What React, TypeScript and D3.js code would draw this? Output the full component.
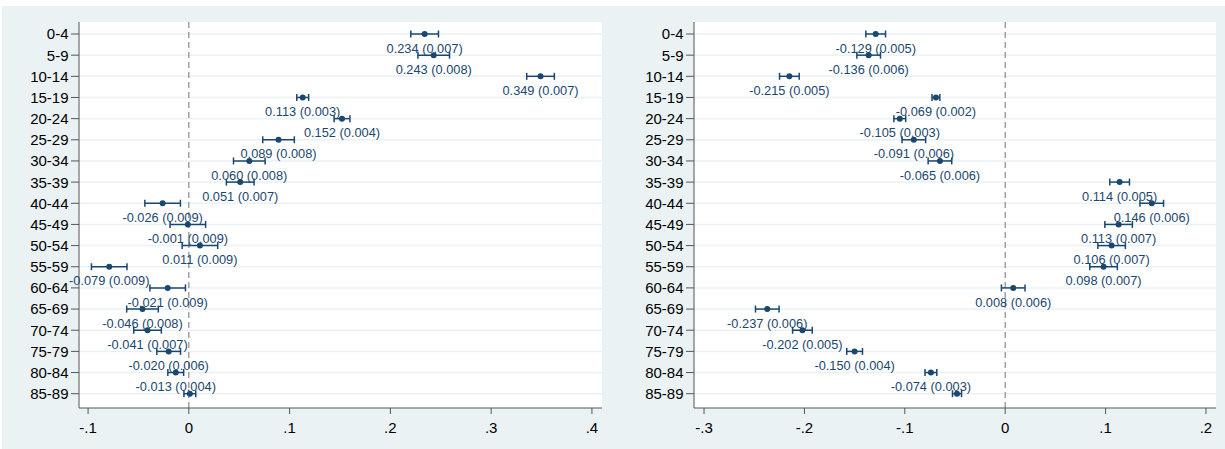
import React from "react";
import * as d3 from "d3";

const categories = ["0-4","5-9","10-14","15-19","20-24","25-29","30-34","35-39","40-44","45-49","50-54","55-59","60-64","65-69","70-74","75-79","80-84","85-89"];

const leftValues = [0.234,0.243,0.349,0.113,0.152,0.089,0.060,0.051,-0.026,-0.001,0.011,-0.079,-0.021,-0.046,-0.041,-0.020,-0.013,0.001];
const leftSE = [0.007,0.008,0.007,0.003,0.004,0.008,0.008,0.007,0.009,0.009,0.009,0.009,0.009,0.008,0.007,0.006,0.004,0.003];
const leftLabeled = [true,true,true,true,true,true,true,true,true,true,true,true,true,true,true,true,true,false];

const rightValues = [-0.129,-0.136,-0.215,-0.069,-0.105,-0.091,-0.065,0.114,0.146,0.113,0.106,0.098,0.008,-0.237,-0.202,-0.150,-0.074,-0.048];
const rightSE = [0.005,0.006,0.005,0.002,0.003,0.006,0.006,0.005,0.006,0.007,0.007,0.007,0.006,0.006,0.005,0.004,0.003,0.0023];
const rightLabeled = [true,true,true,true,true,true,true,true,true,true,true,true,true,true,true,true,true,false];

const leftTicks = [-0.1, 0, 0.1, 0.2, 0.3, 0.4];
const leftTickLabels = ["-.1", "0", ".1", ".2", ".3", ".4"];
const rightTicks = [-0.3, -0.2, -0.1, 0, 0.1, 0.2];
const rightTickLabels = ["-.3", "-.2", "-.1", "0", ".1", ".2"];

const BG = "#eaf2f3";
const NAVY = "#1a476f";
const AXIS = "#555555";
const FONT = "'Liberation Sans', Arial, Helvetica, sans-serif";

type PanelProps = {
  values: number[];
  se: number[];
  labeled: boolean[];
  domain: [number, number];
  x0: number;
  x1: number;
  ticks: number[];
  tickLabels: string[];
};

function fmt(v: number) {
  const s = Math.abs(v).toFixed(3);
  return (v < 0 ? "-" : "") + s;
}

function Panel({ values, se, labeled, domain, x0, x1, ticks, tickLabels }: PanelProps) {
  const top = 22;
  const bottom = 408;
  const x = d3.scaleLinear().domain(domain).range([x0, x1]);
  const y = d3.scalePoint<string>().domain(categories).range([34, 393.7]).padding(0);
  const z = 1.96;
  return (
    <g>
      <rect x={x0} y={top} width={x1 - x0} height={bottom - top} fill="#ffffff" />
      {categories.map((c) => (
        <line key={"g" + c} x1={x0} x2={x1} y1={y(c)} y2={y(c)} stroke={BG} strokeWidth={1.5} />
      ))}
      <line x1={x(0)} x2={x(0)} y1={top} y2={bottom} stroke="#8a8a8a" strokeWidth={1.2} strokeDasharray="6,4" />
      {/* y axis */}
      <line x1={x0} x2={x0} y1={top} y2={bottom} stroke={AXIS} strokeWidth={1} />
      {categories.map((c) => (
        <g key={"yt" + c}>
          <line x1={x0 - 8} x2={x0} y1={y(c)} y2={y(c)} stroke={AXIS} strokeWidth={1} />
          <text x={x0 - 10.5} y={(y(c) as number) + 5.4} textAnchor="end" fontSize={15} fontFamily={FONT} fill="#000">{c}</text>
        </g>
      ))}
      {/* x axis */}
      <line x1={x0} x2={x1} y1={bottom} y2={bottom} stroke={AXIS} strokeWidth={1} />
      {ticks.map((t, i) => (
        <g key={"xt" + i}>
          <line x1={x(t)} x2={x(t)} y1={bottom} y2={bottom + 6} stroke={AXIS} strokeWidth={1} />
          <text x={x(t)} y={432.7} textAnchor="middle" fontSize={15} fontFamily={FONT} fill="#000">{tickLabels[i]}</text>
        </g>
      ))}
      {/* error bars and points */}
      {values.map((v, i) => {
        const cy = y(categories[i]) as number;
        const lo = x(v - z * se[i]);
        const hi = x(v + z * se[i]);
        return (
          <g key={"p" + i}>
            <line x1={lo} x2={hi} y1={cy} y2={cy} stroke={NAVY} strokeWidth={1.5} />
            <line x1={lo} x2={lo} y1={cy - 3.5} y2={cy + 3.5} stroke={NAVY} strokeWidth={1.5} />
            <line x1={hi} x2={hi} y1={cy - 3.5} y2={cy + 3.5} stroke={NAVY} strokeWidth={1.5} />
            <circle cx={x(v)} cy={cy} r={3} fill={NAVY} />
          </g>
        );
      })}
      {values.map((v, i) =>
        labeled[i] ? (
          <text key={"l" + i} x={x(v)} y={(y(categories[i]) as number) + 18.7} textAnchor="middle" fontSize={12.8} fontFamily={FONT} fill={NAVY}>
            {fmt(v) + " (" + se[i].toFixed(3) + ")"}
          </text>
        ) : null
      )}
    </g>
  );
}

export default function App() {
  return (
    <div style={{ position: "absolute", left: 0, top: 0 }}>
      <svg width={1225} height={449} style={{ display: "block" }}>
        <rect x={0} y={0} width={1225} height={449} fill="#ffffff" />
        <rect x={2} y={6} width={1223} height={443} fill={BG} />
        <Panel values={leftValues} se={leftSE} labeled={leftLabeled} domain={[-0.109, 0.41]} x0={79} x1={602} ticks={leftTicks} tickLabels={leftTickLabels} />
        <Panel values={rightValues} se={rightSE} labeled={rightLabeled} domain={[-0.31, 0.21]} x0={694} x1={1216} ticks={rightTicks} tickLabels={rightTickLabels} />
      </svg>
    </div>
  );
}
